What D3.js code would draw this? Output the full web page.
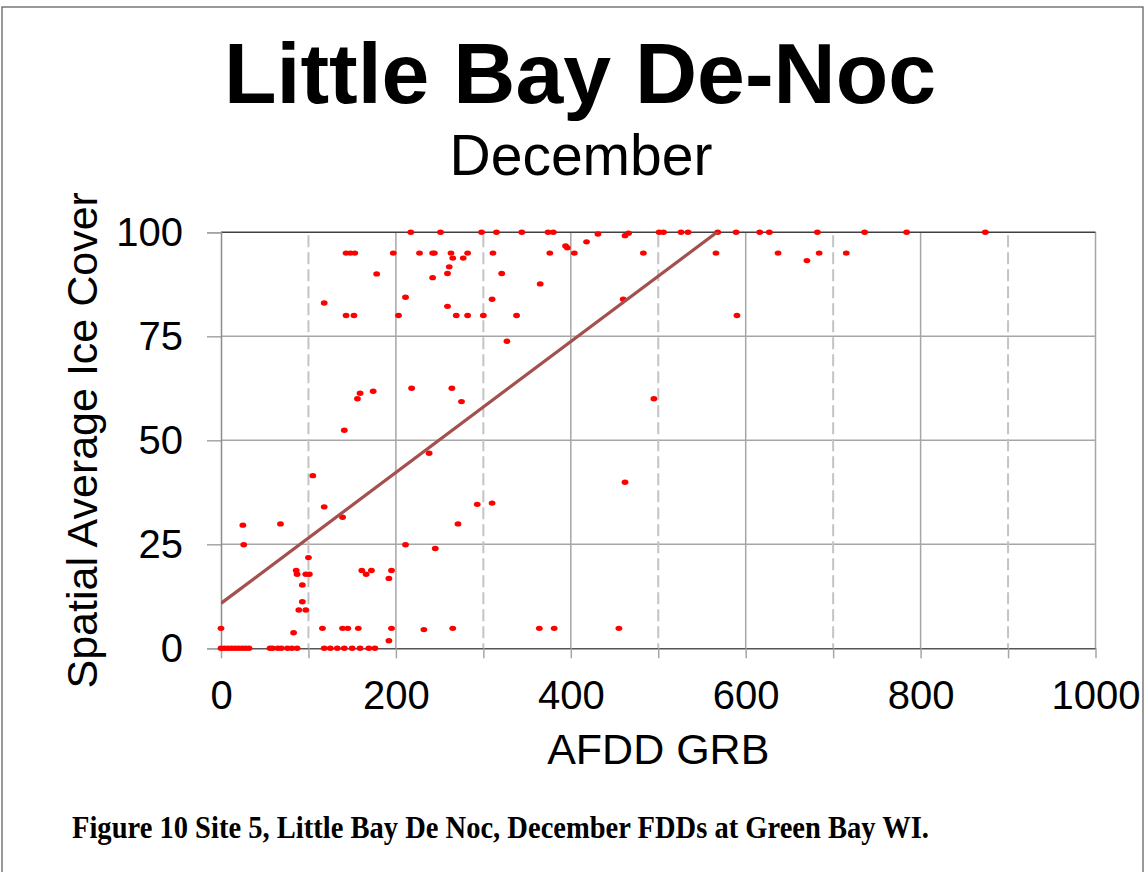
<!DOCTYPE html>
<html>
<head>
<meta charset="utf-8">
<script src="https://cdn.jsdelivr.net/npm/d3@7"></script>
<style>
  body { margin: 0; background: #fff; }
  text { font-family: "Liberation Sans", Arial, sans-serif; }
</style>
</head>
<body>
<div id="chart"></div>
<script>
// AFDD (x) and spatial average ice cover (y)
const afdd = [
  217, 251, 298, 315, 344, 374, 380, 501, 506, 526, 534, 568, 589, 616, 627, 682, 736, 784, 874,
  431, 462, 466, 418, 394, 396,
  143, 148, 153, 197, 227, 242, 244, 263, 282, 311, 376, 404, 483, 566, 637, 684, 715,
  265, 277, 670, 261, 259, 321, 178, 242, 365,
  211, 310, 460, 118, 259,
  143, 152, 203, 269, 282, 300, 338, 590,
  327, 218, 264, 174, 159, 156, 495, 275, 141, 238, 105, 462,
  310, 293, 118, 139, 68, 271, 25, 26, 211, 245, 100,
  86, 161, 172, 195, 87, 97, 101, 166, 192, 93, 93, 89, 97,
  0, 116, 139, 145, 157, 195, 265, 364, 381, 455, 232, 83, 192,
  0, 4, 8, 12, 16, 20, 24, 28, 32, 56, 59, 65, 69, 76, 81, 87, 118, 125, 133, 141, 150, 159, 169, 176
];
const iceCover = [
  100, 100, 100, 100, 100, 100, 100, 100, 100, 100, 100, 100, 100, 100, 100, 100, 100, 100, 100,
  99.6, 99.2, 99.8, 97.7, 96.7, 96.3,
  95, 95, 95, 95, 95, 95, 95, 95, 95, 95, 95, 95, 95, 95, 95, 95, 95,
  93.8, 93.8, 93.2, 91.7, 90.1, 90.1, 90, 89.1, 87.6,
  84.4, 83.9, 83.9, 83, 82.2,
  80, 80, 80, 80, 80, 80, 80, 80,
  73.8, 62.5, 62.5, 61.8, 61.3, 60, 60, 59.3, 52.4, 46.9, 41.5, 39.9,
  34.9, 34.6, 34, 31.5, 29.9, 29.9, 29.6, 24.9, 24.9, 24, 21.8,
  18.7, 18.7, 18.7, 18.7, 17.8, 17.8, 17.8, 17.8, 16.8, 15.2, 11.2, 9.2, 9.2,
  4.8, 4.8, 4.8, 4.8, 4.8, 4.8, 4.8, 4.8, 4.8, 4.8, 4.5, 3.75, 1.8,
  0, 0, 0, 0, 0, 0, 0, 0, 0, 0, 0, 0, 0, 0, 0, 0, 0, 0, 0, 0, 0, 0, 0, 0
];
const xTicks = [0, 200, 400, 600, 800, 1000];
const xMinorTicks = [100, 300, 500, 700, 900];
const yTicks = [0, 25, 50, 75, 100];
// linear trendline as shown
const trendIntercept = 10.8;
const trendSlope = 0.1573;

const W = 1147, H = 872;
const plotLeft = 221, plotRight = 1095.5, plotTop = 232.3, plotBottom = 648.3;

const svg = d3.select("#chart").append("svg")
  .attr("width", W).attr("height", H);

// outer frame
svg.append("rect")
  .attr("x", 2).attr("y", 7).attr("width", 1141).attr("height", 900)
  .attr("fill", "none").attr("stroke", "#555").attr("stroke-width", 1.2);

const x = d3.scaleLinear().domain([0, 1000]).range([plotLeft, plotRight]);
const y = d3.scaleLinear().domain([0, 100]).range([plotBottom, plotTop]);

// titles
svg.append("text")
  .attr("x", 580).attr("y", 103)
  .attr("text-anchor", "middle")
  .style("font-size", "86px").style("font-weight", "bold")
  .text("Little Bay De-Noc");

svg.append("text")
  .attr("x", 581).attr("y", 175)
  .attr("text-anchor", "middle")
  .style("font-size", "57px")
  .text("December");

// horizontal grid
svg.append("g")
  .selectAll("line")
  .data(yTicks.filter(d => d > 0 && d < 100))
  .enter().append("line")
    .attr("x1", plotLeft).attr("x2", plotRight)
    .attr("y1", d => y(d)).attr("y2", d => y(d))
    .attr("stroke", "#a6a6a6").attr("stroke-width", 1.5);

// vertical grid, solid majors and dashed minors
svg.append("g")
  .selectAll("line")
  .data(xTicks.filter(d => d > 0))
  .enter().append("line")
    .attr("x1", d => x(d)).attr("x2", d => x(d))
    .attr("y1", plotTop).attr("y2", plotBottom)
    .attr("stroke", "#a6a6a6").attr("stroke-width", 1.5);

svg.append("g")
  .selectAll("line")
  .data(xMinorTicks)
  .enter().append("line")
    .attr("x1", d => x(d)).attr("x2", d => x(d))
    .attr("y1", plotTop + 3).attr("y2", plotBottom)
    .attr("stroke", "#c4c4c4").attr("stroke-width", 2)
    .attr("stroke-dasharray", "12,5");

// top border
svg.append("line")
  .attr("x1", plotLeft).attr("x2", plotRight)
  .attr("y1", plotTop).attr("y2", plotTop)
  .attr("stroke", "#404040").attr("stroke-width", 1.5);

// y axis
const yAxis = svg.append("g")
  .attr("transform", "translate(" + plotLeft + ",0)")
  .call(d3.axisLeft(y).tickValues(yTicks).tickSize(14).tickPadding(24));
yAxis.select(".domain").attr("stroke", "#8c8c8c").attr("stroke-width", 1.5);
yAxis.selectAll(".tick line").attr("stroke", "#a6a6a6").attr("stroke-width", 1.5);
yAxis.selectAll("text")
  .style("font-size", "40px").attr("fill", "#000")
  .style("font-family", "Liberation Sans, Arial, sans-serif");

// x axis
const xAxis = svg.append("g")
  .attr("transform", "translate(0," + plotBottom + ")")
  .call(d3.axisBottom(x).tickValues(xTicks.concat(xMinorTicks)).tickSize(10).tickSizeOuter(0)
    .tickFormat(d => xTicks.includes(d) ? d : ""));
xAxis.select(".domain").attr("stroke", "#555").attr("stroke-width", 1.5);
xAxis.selectAll(".tick line").attr("stroke", "#a6a6a6").attr("stroke-width", 1.5);
xAxis.selectAll("text")
  .attr("y", 32)
  .style("font-size", "40px").attr("fill", "#000")
  .style("font-family", "Liberation Sans, Arial, sans-serif");

// axis titles
svg.append("text")
  .attr("x", (plotLeft + plotRight) / 2).attr("y", 764)
  .attr("text-anchor", "middle")
  .style("font-size", "43px")
  .text("AFDD GRB");

svg.append("text")
  .attr("transform", "translate(97," + (plotBottom + plotTop) / 2 + ") rotate(-90)")
  .attr("text-anchor", "middle")
  .style("font-size", "43px")
  .text("Spatial Average Ice Cover");

// clip for the trendline
svg.append("clipPath").attr("id", "plotClip")
  .append("rect")
  .attr("x", plotLeft).attr("y", plotTop)
  .attr("width", plotRight - plotLeft).attr("height", plotBottom - plotTop);

// points
svg.append("g")
  .selectAll("ellipse")
  .data(afdd.map((d, i) => [d, iceCover[i]]))
  .enter().append("ellipse")
    .attr("cx", d => x(d[0]))
    .attr("cy", d => y(d[1]))
    .attr("rx", 3.4).attr("ry", 2.7)
    .attr("fill", "#ff0000");

// trendline
const trendLine = d3.line()
  .x(d => x(d))
  .y(d => y(trendIntercept + trendSlope * d));
svg.append("path")
  .datum([0, d3.max(afdd)])
  .attr("d", trendLine)
  .attr("clip-path", "url(#plotClip)")
  .attr("fill", "none")
  .attr("stroke", "#a3504f").attr("stroke-width", 3.2);

// caption
svg.append("text")
  .attr("x", 72).attr("y", 838)
  .attr("textLength", 857).attr("lengthAdjust", "spacingAndGlyphs")
  .style("font-family", "Liberation Serif, Times New Roman, serif")
  .style("font-size", "32px").style("font-weight", "bold")
  .text("Figure 10 Site 5, Little Bay De Noc, December FDDs at Green Bay WI.");
</script>
</body>
</html>
